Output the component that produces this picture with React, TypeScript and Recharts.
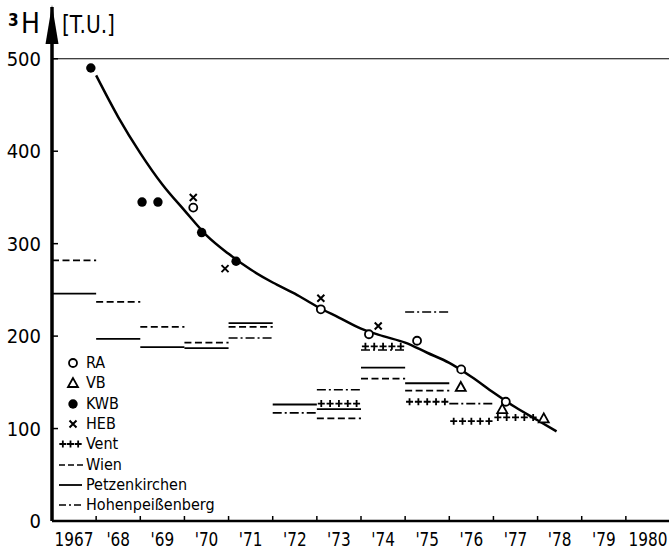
import React from 'react';
import { ComposedChart, Line, Scatter, XAxis, YAxis, ReferenceLine, Legend } from 'recharts';

const FONT = "'Liberation Sans Narrow', 'DejaVu Sans Condensed', 'Roboto Condensed', Roboto, sans-serif";

// axis ticks: year boundaries carry the marks, labels sit in the middle of each year
const yearTicks = [1967, 1968, 1969, 1970, 1971, 1972, 1973, 1974, 1975, 1976, 1977, 1978, 1979, 1980, 1981];
const labelTicks = [1967.5, 1968.5, 1969.5, 1970.5, 1971.5, 1972.5, 1973.5, 1974.5, 1975.5, 1976.5, 1977.5, 1978.5, 1979.5, 1980.5];
const yearLabels = ['1967', "'68", "'69", "'70", "'71", "'72", "'73", "'74", "'75", "'76", "'77", "'78", "'79", '1980'];
const valueTicks = [0, 100, 200, 300, 400, 500];

// fitted curve
const curveYears = [1968.0, 1968.5, 1969.0, 1969.5, 1970.0, 1970.5, 1971.0, 1971.5, 1972.0, 1972.5, 1973.0, 1973.5, 1974.0, 1974.5, 1975.0, 1975.5, 1976.0, 1976.5, 1977.0, 1977.5, 1978.0, 1978.43];
const curveValues = [482, 437, 398, 364, 336, 309, 289, 272, 258, 246, 232, 220, 208, 200, 193, 182, 171, 156, 139, 123, 109, 97];

// single samples
const raYears = [1970.2, 1973.09, 1974.18, 1975.27, 1976.27, 1977.28];
const raValues = [339, 229, 202, 195, 164, 129];
const vbYears = [1976.26, 1977.2, 1978.14];
const vbValues = [145, 121, 111];
const kwbYears = [1967.88, 1969.04, 1969.4, 1970.39, 1971.17];
const kwbValues = [490, 345, 345, 312, 281];
const hebYears = [1970.2, 1970.92, 1973.09, 1974.39];
const hebValues = [350, 273, 241, 211];

// annual means of the precipitation stations (one segment per year)
const ventYears = [1973, 1974, 1975, 1976, 1977];
const ventValues = [127, 189, 129, 108, 112];
const wienYears = [1967, 1968, 1969, 1970, 1971, 1973, 1974, 1975];
const wienValues = [282, 237, 210, 193, 210, 111, 154, 141];
const petzYears = [1967, 1968, 1969, 1970, 1971, 1972, 1973, 1974, 1975];
const petzValues = [246, 197, 188, 187, 214, 126, 121, 166, 149];
const hohenYears = [1971, 1972, 1973, 1974, 1975, 1976];
const hohenValues = [198, 117, 142, 185, 226, 127];

const pts = (xs: number[], ys: number[]) => xs.map((x, i) => ({ x, y: ys[i] }));

const WIEN_DASH = '7 3.5';
const HOHEN_DASH = '9 3 2 3';

const OpenCircle = (p: any) => <circle cx={p.cx} cy={p.cy} r={4} fill="#fff" stroke="#000" strokeWidth={1.8} />;
const Dot = (p: any) => <circle cx={p.cx} cy={p.cy} r={4.7} fill="#000" />;
const Tri = (p: any) => (
  <polygon
    points={`${p.cx},${p.cy - 5} ${p.cx - 5},${p.cy + 4} ${p.cx + 5},${p.cy + 4}`}
    fill="#fff"
    stroke="#000"
    strokeWidth={1.8}
  />
);
const Cross = (p: any) => (
  <path
    d={`M${p.cx - 3.5},${p.cy - 3.5}L${p.cx + 3.5},${p.cy + 3.5}M${p.cx + 3.5},${p.cy - 3.5}L${p.cx - 3.5},${p.cy + 3.5}`}
    stroke="#000"
    strokeWidth={2}
  />
);

const plusRow = (x1: number, x2: number, y: number, n: number) => {
  const step = (x2 - x1) / n;
  let d = '';
  for (let i = 0; i < n; i++) {
    const cx = x1 + step * (i + 0.5);
    d += `M${cx - 3.5},${y}L${cx + 3.5},${y}M${cx},${y - 3.5}L${cx},${y + 3.5}`;
  }
  return d;
};

const VentShape = (p: any) => <path d={plusRow(p.x1, p.x2, p.y1, 5)} stroke="#000" strokeWidth={1.8} fill="none" />;

// x axis: integer ticks get a short upward mark, half-year ticks get the year label
const XTick = (p: any) => {
  const v = p.payload.value;
  const i = labelTicks.indexOf(v);
  if (i < 0) {
    return <line x1={p.x} x2={p.x} y1={p.y} y2={p.y - 5} stroke="#000" strokeWidth={1.5} />;
  }
  return (
    <text
      transform={`translate(${p.x},${p.y + 11}) scale(0.85,1)`}
      dy="0.71em"
      textAnchor="middle"
      fontSize={20}
      fontFamily={FONT}
      fill="#000"
    >
      {yearLabels[i]}
    </text>
  );
};

const legendItems = [
  { key: 'ra', label: 'RA' },
  { key: 'vb', label: 'VB' },
  { key: 'kwb', label: 'KWB' },
  { key: 'heb', label: 'HEB' },
  { key: 'vent', label: 'Vent' },
  { key: 'wien', label: 'Wien' },
  { key: 'petz', label: 'Petzenkirchen' },
  { key: 'hohen', label: 'Hohenpeißenberg' },
];

const legendSymbol = (key: string) => {
  switch (key) {
    case 'ra':
      return <OpenCircle cx={15} cy={10} />;
    case 'vb':
      return <Tri cx={15} cy={10} />;
    case 'kwb':
      return <Dot cx={15} cy={10} />;
    case 'heb':
      return <Cross cx={15} cy={10} />;
    case 'vent':
      return <path d={plusRow(1, 24, 10, 3)} stroke="#000" strokeWidth={1.8} />;
    case 'wien':
      return <line x1={1} x2={25} y1={10} y2={10} stroke="#000" strokeWidth={1.6} strokeDasharray="6 3" />;
    case 'petz':
      return <line x1={1} x2={24} y1={10} y2={10} stroke="#000" strokeWidth={1.8} />;
    default:
      return <line x1={1} x2={25} y1={10} y2={10} stroke="#000" strokeWidth={1.6} strokeDasharray="7 3 2 3" />;
  }
};

const renderLegend = () => (
  <div style={{ fontFamily: FONT, fontSize: 16, color: '#000' }}>
    {legendItems.map((it) => (
      <div key={it.key} style={{ display: 'flex', alignItems: 'center', height: 20.3 }}>
        <svg width={26} height={20} style={{ flex: 'none' }}>
          {legendSymbol(it.key)}
        </svg>
        <span style={{ marginLeft: 2, lineHeight: '20px' }}>{it.label}</span>
      </div>
    ))}
  </div>
);

const renderAxisHead = (props: any) => {
  const vb = props.viewBox || {};
  const ax = vb.x + vb.width;
  const top = vb.y;
  return (
    <g>
      <polygon points={`${ax},${top - 2} ${ax - 6.5},${top + 37} ${ax + 6.5},${top + 37}`} fill="#000" />
      <text x={8} y={26} fontSize={17} fontWeight="bold" fontFamily={FONT} fill="#000">3</text>
      <text x={21} y={33} fontSize={28} fontFamily={FONT} fill="#000">H</text>
      <text x={62} y={33} fontSize={25} fontFamily={FONT} fill="#000" textLength={53} lengthAdjust="spacingAndGlyphs">
        [T.U.]
      </text>
    </g>
  );
};

const segs = (years: number[], values: number[]) =>
  years.map((yr, i) => [
    { x: yr, y: values[i] },
    { x: yr + 1, y: values[i] },
  ]);

export default function App() {
  const tickStyle = { fontSize: 20, fill: '#000', fontFamily: FONT };
  return (
    <div style={{ position: 'absolute', left: 0, top: 0, width: 669, height: 553, overflow: 'hidden', background: '#fff' }}>
      <ComposedChart width={670} height={553} margin={{ top: 7, right: 0, bottom: 0, left: 0 }}>
        <XAxis
          type="number"
          dataKey="x"
          domain={[1967, 1981]}
          ticks={yearTicks.concat(labelTicks)}
          interval={0}
          height={32}
          tickSize={0}
          tickMargin={0}
          tickLine={false}
          tick={XTick}
          axisLine={{ stroke: '#000', strokeWidth: 2.5 }}
          allowDataOverflow
        />
        <YAxis
          yAxisId={0}
          type="number"
          dataKey="y"
          domain={[0, 556]}
          ticks={valueTicks}
          mirror
          tickSize={6}
          tick={() => <g />}
          axisLine={{ stroke: '#000', strokeWidth: 3.5 }}
          tickLine={{ stroke: '#000', strokeWidth: 1.5 }}
          allowDataOverflow
        />
        <YAxis
          yAxisId="lbl"
          type="number"
          domain={[0, 556]}
          ticks={valueTicks}
          width={52}
          tickSize={0}
          tickMargin={11}
          axisLine={false}
          tickLine={false}
          tick={tickStyle}
          interval={0}
          allowDataOverflow
          label={{ content: renderAxisHead }}
        />

        <ReferenceLine y={500} stroke="#000" strokeWidth={1.2} />

        {segs(wienYears, wienValues).map((s, i) => (
          <ReferenceLine key={`w${i}`} segment={s} stroke="#000" strokeWidth={1.8} strokeDasharray={WIEN_DASH} />
        ))}
        {segs(petzYears, petzValues).map((s, i) => (
          <ReferenceLine key={`p${i}`} segment={s} stroke="#000" strokeWidth={1.8} />
        ))}
        {segs(hohenYears, hohenValues).map((s, i) => (
          <ReferenceLine key={`h${i}`} segment={s} stroke="#000" strokeWidth={1.6} strokeDasharray={HOHEN_DASH} />
        ))}
        {segs(ventYears, ventValues).map((s, i) => (
          <ReferenceLine key={`v${i}`} segment={s} stroke="#000" shape={VentShape} />
        ))}

        <Line
          data={pts(curveYears, curveValues)}
          dataKey="y"
          type="monotone"
          stroke="#000"
          strokeWidth={2.5}
          dot={false}
          activeDot={false}
          isAnimationActive={false}
        />
        <Scatter data={pts(raYears, raValues)} shape={OpenCircle} isAnimationActive={false} />
        <Scatter data={pts(vbYears, vbValues)} shape={Tri} isAnimationActive={false} />
        <Scatter data={pts(kwbYears, kwbValues)} shape={Dot} isAnimationActive={false} />
        <Scatter data={pts(hebYears, hebValues)} shape={Cross} isAnimationActive={false} />

        <Legend
          layout="vertical"
          align="center"
          verticalAlign="middle"
          content={renderLegend}
          wrapperStyle={{ left: 58, top: 353, width: 200, height: 170 }}
        />
      </ComposedChart>
    </div>
  );
}
